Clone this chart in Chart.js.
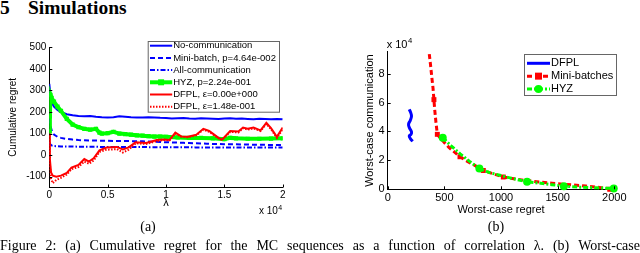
<!DOCTYPE html>
<html>
<head>
<meta charset="utf-8">
<script src="https://cdn.jsdelivr.net/npm/chart.js@4.4.0/dist/chart.umd.min.js"></script>
<style>
body { margin: 0; background: #fff; width: 640px; height: 253px; overflow: hidden; position: relative; font-family: "Liberation Serif", serif; }
canvas { position: absolute; }
.t { position: absolute; line-height: 1; white-space: nowrap; color: #000; }
.cap { position: absolute; left: 0; top: 239px; width: 640px; font-size: 14px; line-height: 14px; text-align: justify; text-align-last: justify; }
</style>
</head>
<body>
<div class="t" style="left:0;top:-2px;font-size:19.5px;font-weight:bold">5</div>
<div class="t" style="left:28px;top:-2px;font-size:19.5px;font-weight:bold">Simulations</div>
<canvas id="regretChart" width="300" height="195" style="left:0;top:35px"></canvas>
<canvas id="commChart" width="300" height="195" style="left:340px;top:35px"></canvas>
<div class="t" style="left:148px;top:220px;font-size:14px;transform:translateX(-50%)">(a)</div>
<div class="t" style="left:496px;top:220px;font-size:14px;transform:translateX(-50%)">(b)</div>
<div class="cap">Figure 2: (a) Cumulative regret for the MC sequences as a function of correlation λ. (b) Worst-case</div>
<script>
// ---- panel (a): cumulative regret vs correlation lambda ----
const lambdaTicks = [0, 5000, 10000, 15000, 20000];
const regretTicks = [-100, 0, 100, 200, 300, 400, 500];
const lambdaSteps = [0, 100, 200, 400, 700, 1000, 1500, 2000, 2500, 3000, 3500, 4000, 4500, 5000, 5500, 6000, 6500, 7000, 7500, 8000, 8500, 9000, 9500, 10000, 10500, 11000, 11500, 12000, 12500, 13000, 13500, 14000, 14500, 15000, 15500, 16000, 16500, 17000, 17500, 18000, 18500, 19000, 19500, 20000];
const noComm = [330, 280, 245, 225, 210, 200, 190, 185, 182, 180, 182, 178, 176, 175, 176, 180, 178, 176, 175, 174, 176, 175, 173, 172, 170, 171, 172, 170, 169, 171, 170, 169, 168, 170, 171, 169, 170, 168, 166, 169, 168, 167, 168, 166];
const miniBatch = [170, 140, 115, 95, 85, 80, 75, 72, 70, 69, 68, 68, 67, 67, 66, 66, 66, 65, 65, 64, 63, 62, 61, 60, 59, 58, 57, 56, 55, 54, 53, 52, 52, 51, 50, 50, 49, 49, 48, 48, 48, 47, 47, 47];
const allComm = [60, 50, 45, 42, 41, 40, 40, 40, 39, 39, 39, 39, 38, 38, 38, 38, 38, 38, 38, 38, 37, 37, 37, 37, 37, 37, 37, 37, 36, 36, 36, 36, 36, 36, 36, 36, 35, 35, 35, 35, 35, 35, 35, 35];

const hyzLambda = [0, 50, 100, 200, 400, 700, 1000, 1500, 2000, 2500, 3000, 3500, 4000, 4300, 4500, 5000, 5500, 6000, 6500, 7000, 7500, 8000, 8500, 9000, 9500, 10000, 11000, 12000, 13000, 14000, 15000, 15500, 16000, 17000, 18000, 19000, 20000];
const hyzRegret = [110, 180, 280, 265, 248, 225, 205, 168, 142, 130, 122, 118, 122, 104, 100, 102, 108, 100, 98, 95, 92, 90, 88, 86, 86, 85, 82, 80, 80, 78, 74, 80, 78, 76, 76, 77, 78];

const dfplLambda = [0, 50, 150, 300, 600, 1000, 1500, 1900, 2500, 3000, 3400, 3800, 4300, 4900, 5800, 6300, 6800, 7400, 8300, 9200, 9800, 10300, 10800, 11300, 11900, 12600, 13200, 13700, 14500, 14800, 15500, 16200, 16600, 17000, 17500, 18100, 18600, 19000, 19500, 20000];
const dfplEps0 = [100, -20, -80, -95, -100, -95, -82, -58, -45, -18, -30, -15, 22, 35, 38, 26, 36, 60, 56, 70, 73, 70, 105, 87, 85, 95, 122, 112, 80, 72, 112, 110, 128, 122, 128, 115, 150, 125, 85, 128];
const dfplEps1 = [90, -40, -110, -130, -115, -105, -90, -65, -55, -30, -40, -25, 15, 25, 28, 12, 25, 55, 52, 65, 70, 68, 100, 85, 83, 92, 118, 108, 78, 70, 108, 105, 125, 118, 124, 112, 145, 120, 80, 120];

// ---- panel (b): worst-case communication vs worst-case regret ----
const worstRegretTicks = [0, 500, 1000, 1500, 2000];
const worstCommTicks = [0, 20000, 40000, 60000, 80000];
const dfplWorstRegret = [190, 203, 210, 200, 184, 192, 210, 206, 190, 205, 221];
const dfplWorstComm = [55300, 53000, 50500, 47800, 45000, 42500, 39800, 38000, 36800, 34500, 33200];
const miniWorstRegret = [367, 378, 390, 400, 408, 415, 425, 438, 480, 540, 638, 700, 780, 844, 920, 1020, 1100, 1200, 1344, 1450, 1550, 1638, 1750, 1850, 1932, 1960];
const miniWorstComm = [93500, 86000, 77000, 70000, 62000, 55000, 47000, 38000, 34000, 29000, 22500, 19500, 16000, 13000, 11000, 8500, 7500, 6300, 5000, 4200, 3500, 3000, 2200, 1400, 700, 0];
const miniMarkerIdx = [4, 7, 10, 13, 15, 25];
const hyzWorstRegret = [486, 560, 640, 720, 809, 900, 1000, 1100, 1230, 1350, 1450, 1555, 1700, 1850, 1995];
const hyzWorstComm = [35700, 30000, 24500, 19500, 14300, 11500, 9500, 7500, 5200, 4200, 3200, 2100, 1500, 1000, 600];
const hyzMarkerIdx = [0, 4, 8, 11, 14];

const pts = (xs, ys) => xs.map((x, i) => ({x: x, y: ys[i]}));
const fixedTicks = list => s => { s.ticks = list.map(v => ({value: v})); };

Chart.defaults.font.family = '"Liberation Sans", Arial, sans-serif';
Chart.defaults.color = '#000';

const inwardTicks = {
    id: 'inwardTicks',
    afterDatasetsDraw(chart) {
        const {ctx, chartArea: a, scales: {x, y}} = chart;
        ctx.save();
        ctx.strokeStyle = '#000';
        ctx.lineWidth = 1;
        ctx.beginPath();
        x.ticks.forEach(t => {
            const px = Math.round(x.getPixelForValue(t.value)) + 0.5;
            ctx.moveTo(px, a.bottom);
            ctx.lineTo(px, a.bottom - 3);
        });
        y.ticks.forEach(t => {
            const py = Math.round(y.getPixelForValue(t.value)) + 0.5;
            ctx.moveTo(a.left, py);
            ctx.lineTo(a.left + 3, py);
        });
        ctx.stroke();
        ctx.restore();
    }
};

function drawMarker(ctx, style, x, y, r, color) {
    ctx.fillStyle = color;
    ctx.beginPath();
    if (style === 'rect') ctx.rect(x - r, y - r, 2 * r, 2 * r);
    else ctx.arc(x, y, r, 0, Math.PI * 2);
    ctx.fill();
}

const boxLegend = {
    id: 'boxLegend',
    afterDraw(chart, args, o) {
        const ctx = chart.ctx;
        ctx.save();
        ctx.fillStyle = '#fff';
        ctx.fillRect(o.x, o.y, o.w, o.h);
        ctx.strokeStyle = '#666';
        ctx.lineWidth = 1;
        ctx.strokeRect(o.x + 0.5, o.y + 0.5, o.w, o.h);
        ctx.font = o.font;
        ctx.textBaseline = 'middle';
        chart.data.datasets.forEach((ds, i) => {
            const yy = o.y + o.first + i * o.rowH;
            ctx.strokeStyle = ds.borderColor;
            ctx.lineWidth = ds.borderWidth;
            ctx.setLineDash(ds.borderDash || []);
            ctx.beginPath();
            ctx.moveTo(o.x + o.lineX0, yy);
            ctx.lineTo(o.x + o.lineX1, yy);
            ctx.stroke();
            ctx.setLineDash([]);
            if (ds.legendMarker) drawMarker(ctx, ds.pointStyle, o.x + (o.lineX0 + o.lineX1) / 2, yy, ds.legendMarker, ds.borderColor);
            ctx.fillStyle = '#000';
            ctx.fillText(ds.label, o.x + o.textX, yy);
        });
        ctx.restore();
    }
};

const powerNote = {
    id: 'powerNote',
    afterDraw(chart, args, o) {
        const ctx = chart.ctx;
        ctx.save();
        ctx.fillStyle = '#000';
        ctx.textBaseline = 'middle';
        ctx.textAlign = 'left';
        ctx.font = o.size + 'px "Liberation Sans", Arial, sans-serif';
        const base = 'x 10';
        const w = ctx.measureText(base).width;
        ctx.font = (o.size * 0.7) + 'px "Liberation Sans", Arial, sans-serif';
        const w4 = ctx.measureText('4').width;
        const x0 = o.alignRight ? o.x - w - w4 : o.x;
        ctx.font = o.size + 'px "Liberation Sans", Arial, sans-serif';
        ctx.fillText(base, x0, o.y);
        ctx.font = (o.size * 0.7) + 'px "Liberation Sans", Arial, sans-serif';
        ctx.fillText('4', x0 + w + 0.5, o.y - o.size * 0.38);
        ctx.restore();
    }
};

new Chart(document.getElementById('regretChart').getContext('2d'), {
    type: 'line',
    data: {
        datasets: [
            {label: 'No-communication', data: pts(lambdaSteps, noComm), borderColor: '#0000ff', borderWidth: 2, pointRadius: 0, order: 5},
            {label: 'Mini-batch, p=4.64e-002', data: pts(lambdaSteps, miniBatch), borderColor: '#0000ff', borderWidth: 2, borderDash: [5, 3], pointRadius: 0, order: 4},
            {label: 'All-communication', data: pts(lambdaSteps, allComm), borderColor: '#0000ff', borderWidth: 2, borderDash: [5, 2, 1.5, 2], pointRadius: 0, order: 3},
            {label: 'HYZ, p=2.24e-001', data: pts(hyzLambda, hyzRegret), borderColor: '#00ff00', backgroundColor: '#00ff00', borderWidth: 4, pointStyle: 'rect', pointRadius: 3, pointBorderWidth: 0, legendMarker: 3, order: 2},
            {label: 'DFPL, ε=0.00e+000', data: pts(dfplLambda, dfplEps0), borderColor: '#ff0000', borderWidth: 2, pointRadius: 0, order: 1},
            {label: 'DFPL, ε=1.48e-001', data: pts(dfplLambda, dfplEps1), borderColor: '#ff0000', borderWidth: 2, borderDash: [1.5, 1.5], pointRadius: 0, order: 0}
        ]
    },
    options: {
        responsive: false,
        animation: false,
        layout: {padding: {left: 0, top: 12.3, right: 17.3, bottom: 0}},
        plugins: {
            legend: {display: false},
            tooltip: {enabled: false},
            boxLegend: {x: 147.7, y: 6, w: 131.3, h: 70.7, first: 4.7, rowH: 12.2, lineX0: 2.3, lineX1: 24.5, textX: 25.5, font: '9.5px "Liberation Sans", Arial, sans-serif'},
            powerNote: {x: 281.7, y: 176.5, size: 10, alignRight: true}
        },
        scales: {
            x: {
                type: 'linear', min: 0, max: 20000,
                grid: {display: true, drawOnChartArea: false, drawTicks: false},
                border: {display: true, color: '#000', width: 1},
                ticks: {padding: 2, font: {size: 10}, callback: v => String(v / 10000), maxRotation: 0, autoSkip: false},
                afterBuildTicks: fixedTicks(lambdaTicks),
                title: {display: true, text: 'λ', font: {size: 11}, padding: {top: 0, bottom: 20.4}},
                afterFit: s => { s.height = 42.5; }
            },
            y: {
                min: -150, max: 500,
                grid: {display: true, drawOnChartArea: false, drawTicks: false},
                border: {display: true, color: '#000', width: 1},
                ticks: {padding: 3, font: {size: 10}, autoSkip: false},
                afterBuildTicks: fixedTicks(regretTicks),
                title: {display: true, text: 'Cumulative regret', font: {size: 10}, padding: {top: 7, bottom: 0}},
                afterFit: s => { s.width = 49.3; }
            }
        }
    },
    plugins: [inwardTicks, boxLegend, powerNote]
});

new Chart(document.getElementById('commChart').getContext('2d'), {
    type: 'line',
    data: {
        datasets: [
            {label: 'DFPL', data: pts(dfplWorstRegret, dfplWorstComm), borderColor: '#0000ff', borderWidth: 3, tension: 0.4, pointRadius: 0, clip: false, order: 2},
            {label: 'Mini-batches', data: pts(miniWorstRegret, miniWorstComm), borderColor: '#ff0000', backgroundColor: '#ff0000', borderWidth: 3, borderDash: [5, 3], pointStyle: 'rect', pointBorderWidth: 0,
             pointRadius: c => miniMarkerIdx.includes(c.dataIndex) ? 3.5 : 0, legendMarker: 3.5, clip: false, order: 1},
            {label: 'HYZ', data: pts(hyzWorstRegret, hyzWorstComm), borderColor: '#00ff00', backgroundColor: '#00ff00', borderWidth: 3, borderDash: [5, 2, 2, 2], pointStyle: 'circle', pointBorderWidth: 0,
             pointRadius: c => hyzMarkerIdx.includes(c.dataIndex) ? 4 : 0, legendMarker: 4, clip: false, order: 0}
        ]
    },
    options: {
        responsive: false,
        animation: false,
        layout: {padding: {left: 0, top: 16.9, right: 25.7, bottom: 0}},
        plugins: {
            legend: {display: false},
            tooltip: {enabled: false},
            boxLegend: {x: 184, y: 19, w: 92, h: 41, first: 9.3, rowH: 12.85, lineX0: 3, lineX1: 26, textX: 27, font: '11px "Liberation Sans", Arial, sans-serif'},
            powerNote: {x: 46.7, y: 10, size: 11, alignRight: false}
        },
        scales: {
            x: {
                type: 'linear', min: 0, max: 2000,
                grid: {display: true, drawOnChartArea: false, drawTicks: false},
                border: {display: true, color: '#000', width: 1},
                ticks: {padding: 2, font: {size: 11}, maxRotation: 0, autoSkip: false, callback: v => String(v)},
                afterBuildTicks: fixedTicks(worstRegretTicks),
                title: {display: true, text: 'Worst-case regret', font: {size: 11}, padding: {top: 0, bottom: 13.4}},
                afterFit: s => { s.height = 40.7; }
            },
            y: {
                min: 0, max: 95000,
                grid: {display: true, drawOnChartArea: false, drawTicks: false},
                border: {display: true, color: '#000', width: 1},
                ticks: {padding: 3, font: {size: 11}, autoSkip: false, callback: v => String(v / 10000)},
                afterBuildTicks: fixedTicks(worstCommTicks),
                title: {display: true, text: 'Worst-case communication', font: {size: 11}, padding: {top: 23.4, bottom: 0}},
                afterFit: s => { s.width = 47.7; }
            }
        }
    },
    plugins: [inwardTicks, boxLegend, powerNote]
});
</script>
</body>
</html>
